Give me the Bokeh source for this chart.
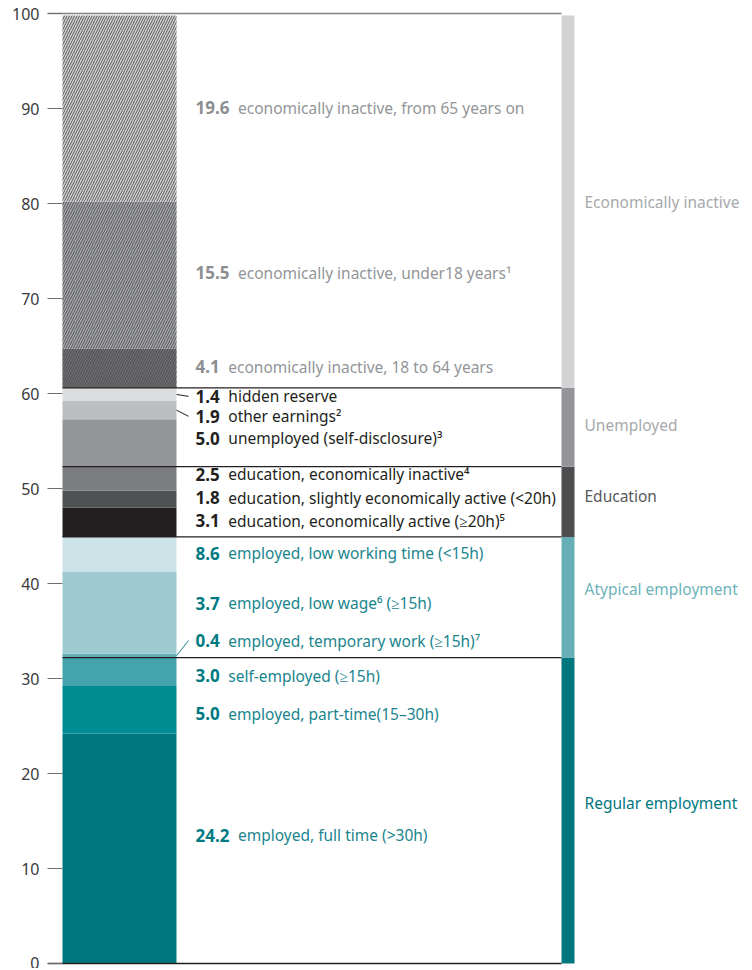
import numpy as np
from bokeh.plotting import figure
from bokeh.models import Range1d, FixedTicker, ColumnDataSource
from bokeh.core.properties import value
from bokeh.embed import file_html
from bokeh.resources import INLINE

# ---------------- data (bottom-up stacking order) ----------------
values = [24.2, 5.0, 3.0, 0.4, 8.6, 3.7, 3.1, 1.8, 2.5, 5.0, 1.9, 1.4, 4.1, 15.5, 19.6]
descriptions = [
    "employed, full time (>30h)",
    "employed, part-time(15–30h)",
    "self-employed (≥15h)",
    "employed, temporary work (≥15h)⁷",
    "employed, low working time (<15h)",
    "employed, low wage⁶ (≥15h)",
    "education, economically active (≥20h)⁵",
    "education, slightly economically active (<20h)",
    "education, economically inactive⁴",
    "unemployed (self-disclosure)³",
    "other earnings²",
    "hidden reserve",
    "economically inactive, 18 to 64 years",
    "economically inactive, under18 years¹",
    "economically inactive, from 65 years on",
]
group_of_item = [0, 0, 0, 1, 1, 1, 2, 2, 2, 3, 3, 3, 4, 4, 4]
groups = ["Regular employment", "Atypical employment", "Education",
          "Unemployed", "Economically inactive"]
y_ticks = [0, 10, 20, 30, 40, 50, 60, 70, 80, 90, 100]

# ---------------- layout / styles ----------------
label_y = [13.5, 26.3, 30.3, 34.0, 43.2, 37.9, 46.6, 49.05, 51.5, 55.3,
           57.6, 59.7, 62.8, 72.7, 90.1]
group_label_y = [16.9, 39.4, 49.2, 56.7, 80.2]
leader_items = [3, 10, 11]

seg_colors = ["#00777F", "#008C93", "#44A3AB", "#63ADB5", "#9FCAD1", "#CEE3E7",
              "#231F20", "#505153", "#7A7C7F", "#939598", "#BCBEC0", "#DCDDDE",
              "#6D6E71", "#A7A9AC", "#D1D3D4"]
hatched = [False] * 12 + [True] * 3
num_colors = ["#007A82", "#007A82", "#231F20", "#231F20", "#8C8E91"]
desc_colors = ["#1A858D", "#1A858D", "#231F20", "#231F20", "#939598"]
group_bar_colors = ["#00777F", "#67AEB6", "#4D4D4F", "#939598", "#D1D3D4"]
group_text_colors = ["#00777F", "#6DB3BA", "#58595B", "#A7A9AC", "#A7A9AC"]

FONT = "Noto Sans"
BAR_L, BAR_R = 15, 129
NUM_X = 148
GBAR_L, GBAR_R = 514, 527
GTEXT_X = 537

p = figure(width=750, height=968, x_range=Range1d(0, 703),
           y_range=Range1d(-0.526, 101.37), output_backend="svg",
           toolbar_location=None, min_border_left=47, min_border_right=0,
           min_border_top=0, min_border_bottom=0)
p.xaxis.visible = False
p.grid.visible = False
p.outline_line_color = None
p.background_fill_color = "white"
p.border_fill_color = "white"

ax = p.yaxis[0]
ax.ticker = FixedTicker(ticks=y_ticks)
ax.axis_line_color = None
ax.major_tick_in = 15
ax.major_tick_out = 0
ax.minor_tick_line_color = None
ax.major_tick_line_color = "#6D6E71"
ax.major_tick_line_width = 1.2
ax.major_label_text_font = FONT
ax.major_label_text_font_size = "16px"
ax.major_label_text_color = "#3A3A3A"
ax.major_label_standoff = 8

vals = np.array(values)
tops = np.cumsum(vals)
bottoms = tops - vals

plain = [i for i in range(len(values)) if not hatched[i]]
hatch = [i for i in range(len(values)) if hatched[i]]

p.quad(left=BAR_L, right=BAR_R, bottom=bottoms[plain], top=tops[plain],
       fill_color=[seg_colors[i] for i in plain], line_color=None)
p.quad(left=BAR_L, right=BAR_R, bottom=bottoms[hatch], top=tops[hatch],
       fill_color=[seg_colors[i] for i in hatch], line_color=None,
       hatch_pattern="/", hatch_color="#4A4A4A", hatch_scale=5,
       hatch_weight=0.9)

# group extents
g_tot = np.array([sum(v for v, g in zip(values, group_of_item) if g == k)
                  for k in range(len(groups))])
g_tops = np.cumsum(g_tot)
g_bottoms = g_tops - g_tot

# group boundary lines
p.segment(x0=BAR_L, x1=GBAR_L, y0=g_tops[:-1], y1=g_tops[:-1],
          line_color="#231F20", line_width=1.2)
# top and bottom frame lines
p.segment(x0=0, x1=GBAR_L, y0=y_ticks[-1], y1=y_ticks[-1],
          line_color="#808285", line_width=1.5)
p.segment(x0=0, x1=GBAR_L, y0=y_ticks[0], y1=y_ticks[0],
          line_color="#231F20", line_width=1.5)

# group bars
p.quad(left=GBAR_L, right=GBAR_R, bottom=g_bottoms, top=g_tops,
       fill_color=group_bar_colors, line_color=None)

# leader lines
centers = (tops + bottoms) / 2
p.segment(x0=BAR_R, x1=BAR_R + 12,
          y0=[centers[i] for i in leader_items],
          y1=[label_y[i] for i in leader_items],
          line_color=[desc_colors[group_of_item[i]] for i in leader_items],
          line_width=1)

# item labels
def num_width(s):
    return sum(9.7 if c.isdigit() else 4.4 for c in s)

num_txt = [f"{v:.1f}" for v in values]
src_num = ColumnDataSource(dict(x=[NUM_X] * len(values), y=label_y, t=num_txt,
                                c=[num_colors[g] for g in group_of_item]))
p.text(x="x", y="y", text="t", source=src_num, text_color="c",
       text_font=value(FONT), text_font_style="bold", text_font_size="17px",
       text_baseline="middle", text_align="left")
src_desc = ColumnDataSource(dict(
    x=[NUM_X + num_width(s) + 9 for s in num_txt], y=label_y, t=descriptions,
    c=[desc_colors[g] for g in group_of_item]))
p.text(x="x", y="y", text="t", source=src_desc, text_color="c",
       text_font=value(FONT), text_font_size="15.5px",
       text_baseline="middle", text_align="left")

# group labels
p.text(x=[GTEXT_X] * len(groups), y=group_label_y, text=groups,
       text_color=group_text_colors, text_font=value(FONT),
       text_font_size="15.5px", text_baseline="middle", text_align="left")

open("out.html", "w").write(file_html(p, INLINE))
